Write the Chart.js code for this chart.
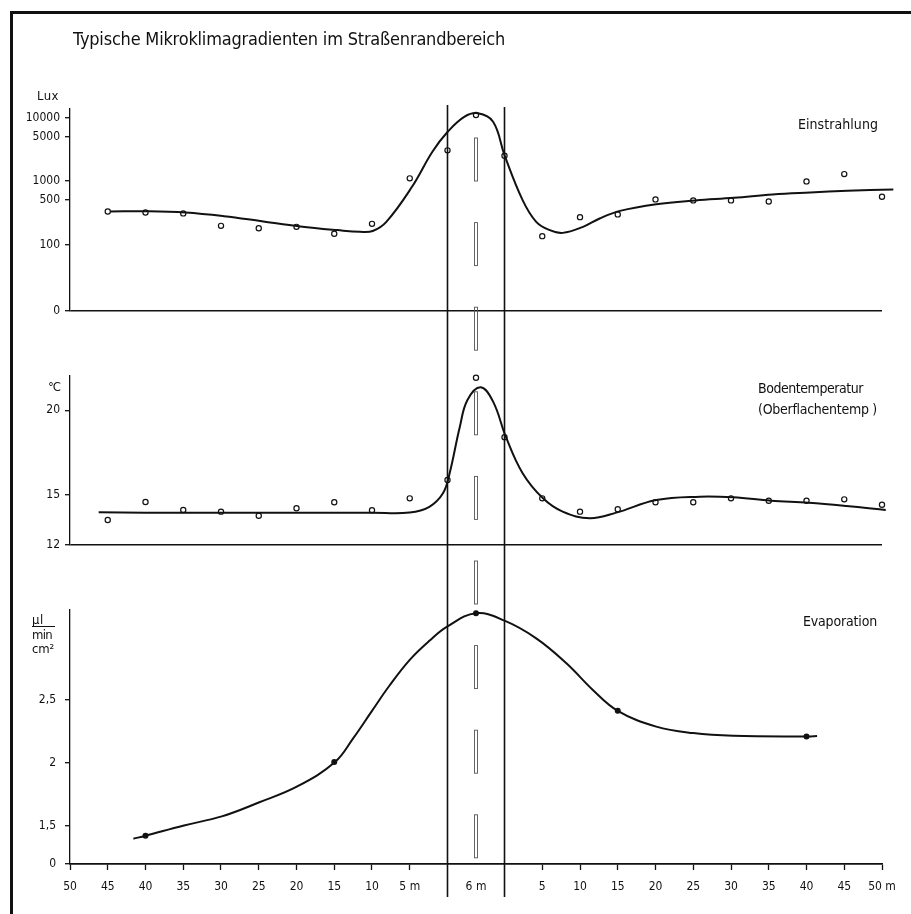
<!DOCTYPE html>
<html lang="de">
<head>
<meta charset="UTF-8">
<title>Typische Mikroklimagradienten im Straßenrandbereich</title>
<script src="https://cdn.jsdelivr.net/npm/chart.js@4"></script>
<style>
  html, body { margin: 0; padding: 0; background: #fff; }
  #wrap { position: relative; width: 911px; height: 914px; overflow: hidden; }
  #frame { position: absolute; left: 10px; top: 11px; width: 960px; height: 960px;
           border-left: 3px solid #111; border-top: 3px solid #111; pointer-events: none; }
</style>
</head>
<body>
<div id="wrap">
  <canvas id="myChart" width="911" height="914"></canvas>
  <div id="frame"></div>
</div>
<script>
// positions along the profile in m: left verge negative, road 0..6, right verge = 6 + distance
const ROAD_WIDTH = 6;
const ROAD_DRAWN = 7.55; // road is drawn wider than the verge scale

const xTickPos = [-50, -45, -40, -35, -30, -25, -20, -15, -10, -5, 3, 11, 16, 21, 26, 31, 36, 41, 46, 51, 56];
const xTickLabels = ['50', '45', '40', '35', '30', '25', '20', '15', '10', '5 m', '6 m',
                     '5', '10', '15', '20', '25', '30', '35', '40', '45', '50 m'];

// measured points (Einstrahlung, Bodentemperatur)
const pointPos = [-45, -40, -35, -30, -25, -20, -15, -10, -5, 0, 3, 6, 11, 16, 21, 26, 31, 36, 41, 46, 51, 56];
const luxPoints = [331, 319, 308, 196, 180, 189, 147, 211, 1100, 3040, 11000, 2500,
                   135, 269, 297, 512, 494, 494, 476, 985, 1284, 563];
const tempPoints = [13.48, 14.55, 14.08, 13.98, 13.74, 14.18, 14.54, 14.06, 14.77, 15.86, 21.93, 18.40,
                    14.77, 13.98, 14.12, 14.54, 14.54, 14.77, 14.63, 14.63, 14.71, 14.39];

// fitted curves
const luxCurvePos = [-44.7, -39.6, -34.7, -29.6, -24.6, -19.5, -14.6, -11.6, -9.9, -8.1, -4.7, -2.0, 0,
                     1.8, 3.2, 4.8, 6, 8.4, 10.2, 12.0, 13.7, 16.4, 18.6, 21.3, 26.1, 31.3, 36.4, 41.5, 46.5, 51.4, 57.5];
const luxCurve = [331, 334, 319, 279, 232, 192, 168, 158, 163, 227, 809, 2889, 5916,
                  10320, 11680, 8604, 2563, 499, 227, 168, 152, 189, 256, 338, 431, 494, 542, 614, 660, 700, 736];

const tempCurvePos = [-46.2, -40, -30, -20, -10, -5, -2.4, -0.6, 0.2, 1.3, 2.1, 3.5, 4.8, 6.2,
                      8.4, 11.1, 13.7, 17.3, 20.8, 26.1, 31.9, 36.3, 41.3, 46.3, 51.3, 56.5];
const tempCurve = [13.94, 13.92, 13.92, 13.92, 13.92, 13.93, 14.27, 15.07, 16.2, 19.02, 20.61, 21.36, 20.51, 18.40,
                   16.26, 14.77, 13.98, 13.59, 13.92, 14.67, 14.87, 14.83, 14.63, 14.51, 14.32, 14.08];

const evapPos = [-40, -15, 3, 21, 46];
const evapPoints = [1.418, 2.006, 3.194, 2.415, 2.21];
const evapCurvePos = [-41.6, -40, -34.9, -29.9, -25, -19.9, -14.9, -12.5, -10, -7.7, -5, -2.4, 0, 3, 6,
                      10.2, 14.2, 17.7, 21, 26.1, 31, 36.3, 46.2, 47.4];
const evapCurve = [1.394, 1.418, 1.50, 1.572, 1.683, 1.811, 2.006, 2.195, 2.415, 2.615, 2.822, 2.974, 3.089, 3.194, 3.135,
                   2.994, 2.795, 2.582, 2.415, 2.289, 2.237, 2.215, 2.21, 2.213];

// y axes (bottom value of each panel is the broken "0" baseline)
const luxBase = 8.91, luxTop = 13650;
const luxTicks = [luxBase, 100, 500, 1000, 5000, 10000];
const luxTickLabels = ['0', '100', '500', '1000', '5000', '10000'];
const tempTicks = [12, 15, 20];
const tempTickLabels = ['12', '15', '20'];
const evapBase = 1.192, evapTop = 3.22;
const evapTicks = [evapBase, 1.5, 2, 2.5];
const evapTickLabels = ['0', '1,5', '2', '2,5'];

const FONT = "'Liberation Sans Narrow', 'DejaVu Sans Condensed', 'Liberation Sans', sans-serif";
const INK = '#111';

function toAxis(p) {
    if (p <= 0) return p;
    if (p < ROAD_WIDTH) return p / ROAD_WIDTH * ROAD_DRAWN;
    return ROAD_DRAWN + (p - ROAD_WIDTH);
}
function pts(xs, ys) {
    return xs.map((p, i) => ({ x: toAxis(p), y: ys[i] }));
}

function yAxis(opts, ticks, labels, pad) {
    return Object.assign({
        position: 'left',
        stack: 'panels',
        afterBuildTicks: s => { s.ticks = ticks.map(v => ({ value: v })); },
        afterFit: s => { s.width = 70; },
        ticks: {
            autoSkip: false, color: INK, padding: pad,
            font: { family: FONT, size: 12 },
            callback: (v, i) => labels[i]
        },
        grid: {
            drawOnChartArea: true, drawTicks: true, tickLength: 5, tickColor: INK, tickWidth: 1.3,
            color: c => c.index === 0 ? INK : 'rgba(0,0,0,0)', lineWidth: 1.4
        },
        border: { display: true, color: INK, width: 1.3 }
    }, opts);
}

function fitText(ctx, text, x, y, width, size) {
    ctx.font = size + 'px ' + FONT;
    ctx.letterSpacing = '0px';
    const w = ctx.measureText(text).width;
    ctx.letterSpacing = ((width - w) / Math.max(1, text.length)) + 'px';
    ctx.fillText(text, x, y);
    ctx.letterSpacing = '0px';
}

const decor = {
    id: 'decor',
    afterDraw(chart) {
        const { ctx, chartArea, scales } = chart;
        const xl = scales.x.getPixelForValue(toAxis(0));
        const xr = scales.x.getPixelForValue(toAxis(ROAD_WIDTH));
        const xc = scales.x.getPixelForValue(toAxis(ROAD_WIDTH / 2));
        ctx.save();
        // road edges
        ctx.strokeStyle = INK;
        ctx.lineWidth = 1.6;
        ctx.beginPath();
        ctx.moveTo(xl, chartArea.top - 4); ctx.lineTo(xl, chartArea.bottom + 33);
        ctx.moveTo(xr, chartArea.top - 2); ctx.lineTo(xr, chartArea.bottom + 33);
        ctx.stroke();
        // centre line of the road
        ctx.strokeStyle = '#555';
        ctx.lineWidth = 0.9;
        const start = chartArea.top + 29, period = 84.6;
        for (let k = 0; k < 9; k++) {
            ctx.strokeRect(xc - 1.5, start + k * period, 3, 43);
        }
        // texts
        ctx.fillStyle = INK;
        ctx.textBaseline = 'alphabetic';
        ctx.textAlign = 'left';
        const L = chartArea.left, R = chartArea.right;
        fitText(ctx, 'Typische Mikroklimagradienten im Straßenrandbereich', L + 3, 45, 432, 18);
        fitText(ctx, 'Lux', L - 33, scales.yLux.top - 9, 22, 13);
        fitText(ctx, '°C', L - 22, scales.yTemp.top + 15, 12, 13);
        const ey = scales.yEvap.top;
        fitText(ctx, 'µl', L - 38, ey + 14, 12, 13);
        ctx.strokeStyle = INK; ctx.lineWidth = 1;
        ctx.beginPath(); ctx.moveTo(L - 38, ey + 16.5); ctx.lineTo(L - 15, ey + 16.5); ctx.stroke();
        fitText(ctx, 'min', L - 38, ey + 29, 20, 13);
        fitText(ctx, 'cm²', L - 38, ey + 43, 22, 13);
        fitText(ctx, 'Einstrahlung', R - 84, scales.yLux.top + 20, 80, 14);
        fitText(ctx, 'Bodentemperatur', R - 124, scales.yTemp.top + 17, 105, 14);
        fitText(ctx, '(Oberflachentemp )', R - 124, scales.yTemp.top + 38, 119, 14);
        fitText(ctx, 'Evaporation', R - 79, ey + 16, 74, 14);
        ctx.restore();
    }
};

const curveStyle = {
    showLine: true, pointRadius: 0, borderColor: INK, borderWidth: 2,
    tension: 0.4, clip: false
};
const circleStyle = {
    showLine: false, pointRadius: 2.6, pointBorderWidth: 1.2,
    pointBorderColor: INK, pointBackgroundColor: 'rgba(0,0,0,0)', clip: false
};

const ctx = document.getElementById('myChart').getContext('2d');
new Chart(ctx, {
    type: 'scatter',
    data: {
        datasets: [
            Object.assign({ label: 'Einstrahlung Messwerte', data: pts(pointPos, luxPoints), yAxisID: 'yLux' }, circleStyle),
            Object.assign({ label: 'Bodentemperatur Messwerte', data: pts(pointPos, tempPoints), yAxisID: 'yTemp' }, circleStyle),
            Object.assign({ label: 'Evaporation Messwerte', data: pts(evapPos, evapPoints), yAxisID: 'yEvap' }, circleStyle,
                          { pointRadius: 2.4, pointBackgroundColor: INK }),
            Object.assign({ label: 'Einstrahlung', data: pts(luxCurvePos, luxCurve), yAxisID: 'yLux' }, curveStyle),
            Object.assign({ label: 'Bodentemperatur', data: pts(tempCurvePos, tempCurve), yAxisID: 'yTemp' }, curveStyle),
            Object.assign({ label: 'Evaporation', data: pts(evapCurvePos, evapCurve), yAxisID: 'yEvap' }, curveStyle)
        ]
    },
    options: {
        responsive: false,
        animation: false,
        devicePixelRatio: 1,
        layout: { padding: { top: 109, right: 29, bottom: 0, left: 0 } },
        plugins: { legend: { display: false }, tooltip: { enabled: false }, title: { display: false } },
        scales: {
            x: {
                type: 'linear', position: 'bottom',
                min: -50, max: ROAD_DRAWN + 50,
                afterBuildTicks: s => { s.ticks = xTickPos.map(p => ({ value: toAxis(p) })); },
                afterFit: s => { s.height = 50; },
                ticks: {
                    autoSkip: false, maxRotation: 0, color: INK, padding: 10,
                    font: { family: FONT, size: 12 },
                    callback: (v, i) => xTickLabels[i]
                },
                grid: {
                    drawOnChartArea: false, drawTicks: true, tickLength: 6, tickWidth: 1.3,
                    tickColor: c => xTickLabels[c.index] === '6 m' ? 'rgba(0,0,0,0)' : INK
                },
                border: { display: true, color: INK, width: 1.5 }
            },
            yLux: yAxis({ type: 'logarithmic', min: luxBase, max: luxTop, weight: 5, stackWeight: 202 },
                        luxTicks, luxTickLabels, 5),
            gap1: { type: 'linear', position: 'left', stack: 'panels', weight: 4, stackWeight: 64.7, display: false },
            yTemp: yAxis({ type: 'linear', min: 12, max: 22.05, weight: 3, stackWeight: 169.3 },
                         tempTicks, tempTickLabels, 5),
            gap2: { type: 'linear', position: 'left', stack: 'panels', weight: 2, stackWeight: 65, display: false },
            yEvap: yAxis({ type: 'linear', min: evapBase, max: evapTop, weight: 1, stackWeight: 254 },
                         evapTicks, evapTickLabels, 9)
        }
    },
    plugins: [decor]
});
</script>
</body>
</html>
